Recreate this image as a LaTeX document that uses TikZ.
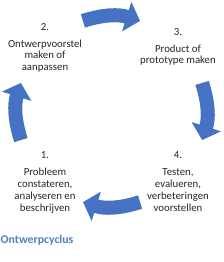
\documentclass[tikz,border=0pt]{standalone}
\usepackage{fontspec}
\setmainfont{Carlito}
\usepackage{xcolor}
\usetikzlibrary{arrows.meta,calc}
\definecolor{cycblue}{RGB}{70,114,196}
\definecolor{titleblue}{RGB}{79,129,189}

\begin{document}
\begin{tikzpicture}[x=1pt, y=1pt,
  stage/.style={align=center, text=black!85, inner sep=0pt, anchor=north,
    font=\fontsize{10.8}{11.5}\selectfont},
  cycarrow/.style={draw=cycblue, line width=14pt, -{Triangle[length=14pt,width=30pt]}, bend left=17.5}
]
\useasboundingbox (0,0) rectangle (224,262);
\coordinate (ctr) at (111.5,150.5);

% de vier stappen
\node[stage] (s2) at (45,238.5) {2.\\[5pt]Ontwerpvoorstel\\maken of\\aanpassen};
\node[stage] (s3) at (178,233.3) {3.\\[5pt]Product of\\prototype maken};
\node[stage, font=\fontsize{10.8}{12}\selectfont] (s1) at (45,110.8) {1.\\[5pt]Probleem\\constateren,\\analyseren en\\beschrijven};
\node[stage, font=\fontsize{10.8}{12}\selectfont] (s4) at (178,110.8) {4.\\[5pt]Testen,\\evalueren,\\verbeteringen\\voorstellen};

\node[anchor=west, inner sep=0pt, text=titleblue, font=\fontsize{11.8}{14}\selectfont\bfseries] (title) at (0.5,21.7) {Ontwerpcyclus};

% pijlen rond de cyclus
\foreach \a/\n in {90/23, 0/34, -90/41, 180/12} {
  \coordinate (p\n a) at ($(ctr)+(\a+17.5:95)$);
  \coordinate (p\n b) at ($(ctr)+(\a-17.5:95)$);
}
\draw[cycarrow] (p23a) to (p23b);
\draw[cycarrow] (p34a) to (p34b);
\draw[cycarrow] (p41a) to (p41b);
\draw[cycarrow] (p12a) to (p12b);
\end{tikzpicture}
\end{document}
